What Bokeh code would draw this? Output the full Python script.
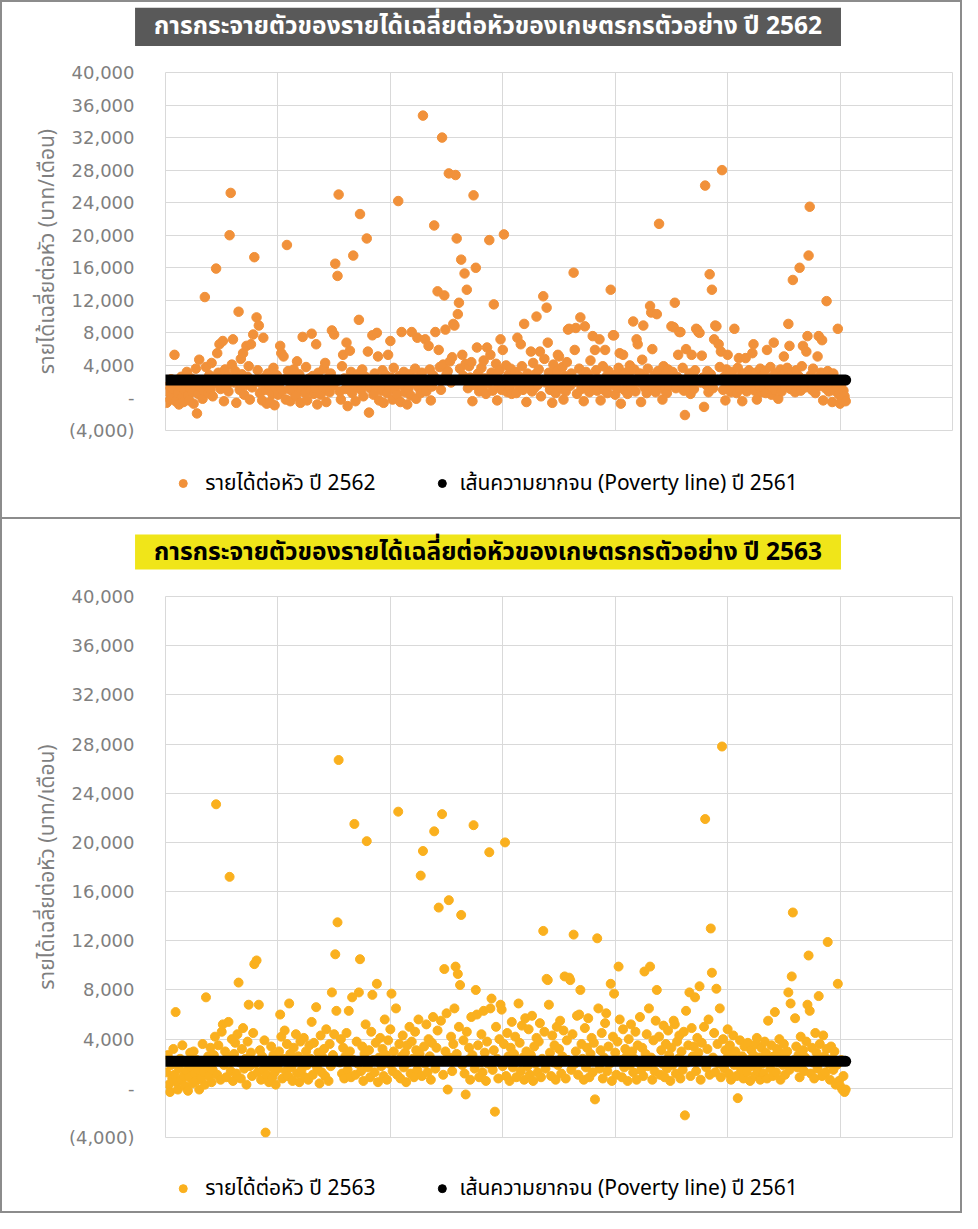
from bokeh.plotting import figure
from bokeh.models import Range1d, FixedTicker
from bokeh.layouts import column
from bokeh.embed import file_html
from bokeh.resources import INLINE
from bokeh.core.properties import value

titles = ["การกระจายตัวของรายได้เฉลี่ยต่อหัวของเกษตรกรตัวอย่าง ปี 2562",
          "การกระจายตัวของรายได้เฉลี่ยต่อหัวของเกษตรกรตัวอย่าง ปี 2563"]
series_names = ["รายได้ต่อหัว ปี 2562", "รายได้ต่อหัว ปี 2563"]
poverty_name = "เส้นความยากจน (Poverty line) ปี 2561"
y_label = "รายได้เฉลี่ยต่อหัว (บาท/เดือน)"
y_ticks = [-4000, 0, 4000, 8000, 12000, 16000, 20000, 24000, 28000, 32000, 36000, 40000]
y_tick_labels = ["(4,000)", "-", "4,000", "8,000", "12,000", "16,000", "20,000",
                 "24,000", "28,000", "32,000", "36,000", "40,000"]
x_grid = [0, 100, 200, 300, 400, 500, 600, 700]
poverty_line = 2200

income_2562 = [
    -600, 800, 1500, -200, 2300, 400, 1100, 5300, -400, 1800,
    600, -800, 1400, 2600, 200, -500, 900, 1700, 3200, 300,
    -300, 1200, 2400, 700, -700, 1600, 3600, -1900, 500, 4700,
    1300, 2100, -100, 900, 12400, 3800, 1500, 600, 2800, 1000,
    4300, 200, 2500, 1800, 15900, 5500, 3100, 6600, 1100, 2200,
    7000, -400, 3500, 1400, 2700, 800, 20000, 25200, 4100, 7200,
    1900, 3300, -600, 2400, 10600, 1000, 4800, 2900, 5500, 400,
    1600, 6400, 2600, 3900, -200, 6600, 1300, 7800, 17300, 2000,
    9900, 3400, 8900, 600, 1800, -300, 7400, 2500, 1000, -700,
    3000, 1500, -500, 2200, 500, 3700, -900, 1200, 2800, 400,
    1700, 6400, 5500, 900, 5100, 2300, -200, 18800, 3300, 1100,
    -400, 2600, 800, 3500, 1900, 200, 4500, 1400, 2900, -600,
    1000, 7500, 2100, 600, 3800, -300, 1600, 2400, 900, 7900,
    2700, 500, 1200, 6600, -800, 3100, 1800, 400, 2200, 1300,
    3600, 4300, -500, 1000, 2500, 700, 3000, 8300, 1500, 7800,
    16500, 2000, 15000, 25000, 800, -200, 3900, 5300, 2400, 1100,
    6800, -1000, 1700, 5800, 3200, 600, 17500, 2100, -400, 1400,
    2900, 9600, 22600, 1000, 3500, 200, 1800, 2600, 19600, 5700,
    -1800, 1200, 2300, 7700, 400, 3000, 1500, 8000, 5100, -300,
    2200, 900, 3400, -600, 1700, 2800, 600, 5300, 1300, 7000,
    2500, -200, 3700, 1000, 1900, 400, 24200, 2700, -500, 8100,
    1500, 3200, 700, 2100, -800, 1100, 2900, 300, 8100, 1800,
    2400, 3600, -100, 7400, 1300, 2600, 600, 3100, 34700, 1700,
    7200, 800, 2000, 6400, 3500, -300, 1400, 2800, 21200, 8100,
    2300, 13100, 5900, 3800, 1000, 32000, 4100, 12600, 8400, 2900,
    3300, 27600, 4500, 1900, 5000, 9100, 8900, 27400, 19600, 10300,
    11700, 3600, 17000, 5300, 2700, 15300, 4200, 13300, 1200, 3900,
    2500, 4400, -400, 24900, 1600, 16000, 6200, 3000, 800, 2200,
    3700, 1100, 4600, 2400, 500, 6200, 1800, 19400, 5300, 3100,
    900, 11500, 2600, 4200, -300, 1500, 3400, 7200, 1000, 5900,
    20100, 2100, 4000, 700, 2800, 1300, 3600, 500, 2400, 1900,
    3200, 600, 7400, 2700, 1400, 6600, 3900, 1000, 9100, 2300,
    -500, 3000, 1700, 2500, 5700, 800, 4300, 1200, 2900, 10000,
    1600, 3500, 5700, 200, 2200, 12500, 4800, 1900, 11100, 6800,
    3100, 1000, 2600, -600, 4100, 1700, 600, 3300, 5300, 5100,
    2000, 1200, 3800, -200, 2700, 800, 4400, 8400, 8500, 1500,
    3000, 2200, 15400, 5900, 8600, 500, 1900, 3600, 9900, 1100,
    2500, -400, 8800, 3200, 1400, 2800, 700, 4600, 2100, 7600,
    1300, 5900, 3400, 900, 2300, 7200, -300, 1700, 3900, 1000,
    5900, 2600, 600, 3300, 1500, 13300, 2000, 7700, 7700, 400,
    2900, 1200, 3700, 5500, -700, 2400, 5300, 1000, 3100, 1800,
    500, 2700, 4000, 1400, 2200, 9400, 3500, 800, 7200, 6600,
    1900, 3000, -500, 4700, 8900, 1300, 2500, 600, 3600, 2000,
    11300, 10500, 6000, 1100, 2800, 700, 10300, 3300, 21400, 1600,
    2400, -200, 3900, 1000, 2900, 600, 3500, 1500, 2100, 8800,
    3200, 8700, 11700, 1200, 2600, 5300, 8100, 8100, 1800, 3700,
    900, -2100, 6000, 2300, 1400, 3000, 500, 5300, 2700, 1100,
    3400, 8500, 8400, 8100, 8000, 1900, 5200, 2500, -1100, 26100,
    1600, 3300, 700, 15200, 2900, 13300, 1200, 7200, 8900, 8800,
    2200, 6600, 3800, 5700, 28000, 1000, 2600, -300, 3500, 5300,
    1800, 2900, 700, 3200, 1400, 8500, 2300, 600, 3700, 4900,
    1100, 2700, -400, 3000, 1900, 4900, 800, 2500, 3400, 1300,
    2000, 5500, 6600, 900, 3100, -200, 2400, 1500, 3600, 700,
    2800, 1200, 3300, 600, 5900, 2100, 1600, 3800, 400, 2600,
    6800, 1000, 3000, 2200, -100, 1700, 3500, 800, 2900, 5100,
    1400, 2500, 3700, 9100, 6400, 1100, 3200, 14500, 2000, 700,
    3400, 1800, 2700, 16000, 900, 3900, 6400, 2300, 1300, 5700,
    7600, 17500, 23500, 2800, 1000, 3600, 1900, 600, 2400, 5100,
    7600, 1500, 3100, 7100, -300, 2200, 1200, 11900, 3300, 800,
    2600, 1700, -500, 3000, 900, 2000, 1400, 8500, 400, -700,
    1600, -300, 900, 200, -400,
]

income_2563 = [
    1300, 2700, 300, -300, 1900, 800, 3200, 1100, 6200, 500,
    -100, 1600, 2400, 700, 3500, 1000, 200, 2100, 1400, -200,
    900, 2900, 1700, 400, 3000, 1200, 600, 2300, 1500, -100,
    2000, 800, 3600, 1300, 300, 7400, 1800, 2600, 1000, 3300,
    500, 1500, 2700, 4200, 23100, 1100, 3500, 2200, 700, 4600,
    5200, 1900, 3000, 900, 2500, 5400, 17200, 1400, 4000, 600,
    2800, 3700, 1200, 4400, 8600, 2100, 800, 3200, 4900, 1600,
    2400, 300, 3800, 6800, 1800, 2900, 1000, 4500, 10100, 2000,
    10400, 1300, 6800, 3100, 700, 2600, 1500, 3900, -3600, 1100,
    2200, 500, 1800, 3400, 900, 2700, 1300, 300, 2000, 1600,
    3000, 6000, 4200, 800, 2400, 4700, 1400, 3600, 1000, 6900,
    2800, 1700, 600, 3300, 2100, 4400, 1200, 2600, 500, 3800,
    1500, 2300, 4100, 900, 3000, 1900, 700, 3500, 2400, 5400,
    1100, 3700, 2000, 6600, 1600, 2900, 400, 4300, 1300, 2500,
    3200, 1000, 4800, 2200, 600, 3600, 1800, 7800, 2700, 4400,
    10900, 6300, 13500, 26700, 2100, 4000, 1200, 3300, 800, 2600,
    4500, 1500, 6300, 3000, 900, 7400, 2300, 21500, 1100, 3800,
    2000, 7800, 10500, 1400, 3400, 600, 2800, 5200, 20100, 1700,
    3100, 900, 4600, 7600, 2300, 1300, 3700, 8500, 500, 2500,
    4100, 1800, 3200, 1000, 5600, 2700, 700, 3900, 2000, 4800,
    7700, 1400, 3000, 2200, 6500, 1100, 22500, 3600, 800, 2600,
    4300, 1700, 2900, 500, 3500, 2100, 5000, 1200, 3800, 2400,
    900, 4600, 3100, 1500, 5600, 2800, 17300, 1000, 19300, 3400,
    2000, 5200, 1300, 4000, 2600, 700, 3700, 5800, 20900, 1600,
    3300, 4700, 14700, 2200, 5500, 22300, 1100, 9700, 3000, 6100,
    -100, 15300, 2500, 4200, 1400, 3600, 6500, 9900, 2800, 9300,
    5000, 8400, 14100, 1900, 3900, 1200, -500, 4600, 2300, 3300,
    700, 5800, 2700, 21400, 1600, 8000, 6000, 3500, 900, 2100,
    4400, 1300, 6300, 2900, 600, 3800, 2000, 19200, 6500, 7300,
    1500, 3100, -1900, 5000, 2400, 800, 4000, 6800, 6400, 1800,
    3600, 20000, 1000, 4500, 2600, 600, 3300, 5400, 1700, 2800,
    4200, 900, 2200, 6900, 3700, 1400, 5100, 2500, 700, 5700,
    3000, 1800, 4800, 1100, 2700, 5900, 600, 3400, 2000, 4100,
    1300, 3800, 5300, 900, 2400, 12800, 4600, 1600, 8900, 8800,
    6800, 2900, 1000, 4300, 2100, 3500, 700, 5000, 1900, 3200,
    5500, 1200, 2600, 4700, 9100, 800, 3900, 2300, 9000, 8800,
    1500, 4400, 12500, 2000, 3000, 5900, 1100, 6000, 8000, 3600,
    2400, 700, 4900, 1700, 3300, 5700, 900, 2800, 4100, 1300,
    3700, -900, 2200, 12200, 6500, 1600, 3100, 4500, 800, 2500,
    5300, 6100, 1400, 3400, 2000, 8500, 600, 4200, 7700, 2900,
    1100, 3800, 9900, 5600, 2300, 900, 4800, 1700, 3200, 2600,
    600, 4000, 1900, 5200, 3000, 1300, 2400, 4600, 700, 3500,
    2100, 5800, 1500, 3300, 1000, 9500, 2800, 4400, 1800, 6500,
    9900, 2500, 700, 3900, 1400, 5500, 8000, 2200, 4200, 1100,
    3100, 2000, 5100, 900, 3600, 1600, 4700, 2700, 600, 3300,
    1900, 5500, 5200, 1200, 3800, 2400, 4300, 800, 3000, 1500,
    4600, -2200, 6300, 2100, 3500, 7800, 1000, 4900, 2600, 3400,
    7400, 1400, 4100, 2900, 8300, 700, 3700, 2200, 5000, 21900,
    1700, 3200, 5600, 1100, 13000, 9400, 2500, 4500, 1300, 8100,
    3600, 2000, 6500, 900, 27800, 4000, 1600, 3100, 2400, 4800,
    1200, 3500, 700, 2800, 4300, 1900, 3000, 1000, -800, 2200,
    3900, 1500, 2600, 800, 3400, 2000, 1300, 3700, 2300, 600,
    3100, 1800, 2700, 1000, 3600, 4100, 1400, 2500, 700, 3300,
    2000, 1200, 3800, 2900, 800, 5500, 2200, 1600, 3500, 1000,
    2600, 6200, 1300, 3200, 2100, 4000, 700, 2800, 1900, 3600,
    1100, 2400, 3000, 7800, 1500, 6900, 9100, 14300, 2300, 5700,
    3400, 1700, 2700, 900, 4200, 2000, 3100, 1400, 2500, 3800,
    6800, 10800, 6300, 1200, 3300, 2100, 800, 4500, 2900, 1600,
    7500, 3600, 2200, 1000, 4300, 2600, 1300, 3200, 11900, 2000,
    700, 3400, 2400, 1500, 3000, 300, 1900, 8500, 600, 200,
    2300, -100, 1000, -300, -100,
]

THAI = "Noto Sans Thai, Noto Sans, DejaVu Sans, sans-serif"
BORDER = "2px solid #8c8c8c"
B = 2            # border width (CSS borders are drawn inside the element box)
W = 962          # outer width of every row
CW = W - 2 * B   # canvas width


def pixel_fig(canvas_h, styles, extra_h):
    # a figure whose data units are canvas pixels (y downwards), used for title / legend rows
    f = figure(width=W, height=canvas_h + extra_h, output_backend="svg", toolbar_location=None,
               x_range=Range1d(0, CW), y_range=Range1d(canvas_h, 0),
               min_border=0, frame_align=False, styles=styles)
    f.axis.visible = False
    f.grid.visible = False
    f.outline_line_color = None
    return f


def title_fig(title, bg, fg, canvas_h, box_top, box_bottom, styles, extra_h):
    f = pixel_fig(canvas_h, styles, extra_h)
    f.quad(left=[132], right=[835], top=[box_top], bottom=[box_bottom],
           fill_color=bg, line_color=None)
    f.text(x=[483.5], y=[(box_top + box_bottom) / 2], text=[title],
           text_align="center", text_baseline="middle",
           text_font=value(THAI), text_font_style="bold", text_font_size="24.5px",
           text_color=fg)
    return f


def legend_fig(series_name, color, canvas_h, cy, styles, extra_h):
    f = pixel_fig(canvas_h, styles, extra_h)
    f.scatter(x=[180], y=[cy], size=8, fill_color=color, line_color=color)
    f.scatter(x=[438], y=[cy], size=8, fill_color="black", line_color="black")
    f.text(x=[202, 455], y=[cy, cy], text=[series_name, poverty_name],
           text_align="left", text_baseline="middle",
           text_font=value(THAI), text_font_size="21px", text_color="black")
    return f


def main_fig(values, color, dot_size, height, top, bottom, styles):
    xs = list(range(1, len(values) + 1))
    p = figure(width=W, height=height, output_backend="svg", toolbar_location=None,
               x_range=Range1d(x_grid[0], x_grid[-1]),
               y_range=Range1d(y_ticks[0], y_ticks[-1]),
               min_border_left=163, min_border_right=12,
               min_border_top=top, min_border_bottom=bottom,
               frame_align=False, styles=styles)
    p.xaxis.visible = False
    p.xgrid.ticker = FixedTicker(ticks=x_grid)
    p.ygrid.ticker = FixedTicker(ticks=y_ticks)
    p.xgrid.grid_line_color = "#d9d9d9"
    p.ygrid.grid_line_color = "#d9d9d9"
    p.outline_line_color = "#d9d9d9"
    ax = p.yaxis[0]
    ax.ticker = FixedTicker(ticks=y_ticks)
    ax.major_label_overrides = dict(zip(y_ticks, y_tick_labels))
    ax.axis_line_color = None
    ax.major_tick_line_color = None
    ax.minor_tick_line_color = None
    ax.major_tick_out = 0
    ax.major_label_standoff = 31
    ax.major_label_text_font = "DejaVu Sans"
    ax.major_label_text_font_size = "18px"
    ax.major_label_text_color = "#7f7f7f"
    ax.axis_label = y_label
    ax.axis_label_text_font = THAI
    ax.axis_label_text_font_style = "normal"
    ax.axis_label_text_font_size = "21px"
    ax.axis_label_text_color = "#7f7f7f"
    ax.axis_label_standoff = 3

    p.scatter(xs, values, size=dot_size, fill_color=color, line_color=color)
    p.line([xs[0] - 1, xs[-1]], [poverty_line, poverty_line], line_width=11,
           line_color="black", line_cap="round")
    return p


side = {"border-left": BORDER, "border-right": BORDER}
top_s = dict(side, **{"border-top": BORDER})
bot_s = dict(side, **{"border-bottom": BORDER})

t1 = title_fig(titles[0], "#595959", "white", 56, 5, 42, top_s, B)
m1 = main_fig(income_2562, "#f1913a", 9.5, 390, 14, 18, side)
l1 = legend_fig(series_names[0], "#f1913a", 69, 34, bot_s, B)

t2 = title_fig(titles[1], "#f0e519", "black", 60, 15, 50, side, 0)
m2 = main_fig(income_2563, "#fab01e", 9, 576, 17, 18, side)
l2 = legend_fig(series_names[1], "#fab01e", 56, 32, bot_s, B)

layout = column(t1, m1, l1, t2, m2, l2, spacing=0)
open("out.html", "w").write(file_html(layout, INLINE))
